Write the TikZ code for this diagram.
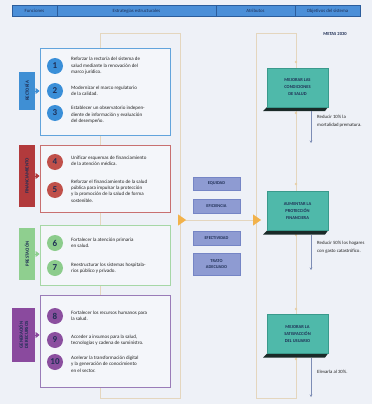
\documentclass[tikz,border=0pt]{standalone}
\usepackage{fontspec}
\setmainfont{Carlito}
\usetikzlibrary{shapes.geometric,arrows.meta,calc}
\definecolor{bgc}{HTML}{EEF1F7}
\definecolor{boxfill}{HTML}{F4F6FA}
\definecolor{beige}{HTML}{E4D6BE}
\definecolor{hdr}{HTML}{4B8FD8}
\definecolor{hdrdark}{HTML}{2B5D9C}
\definecolor{navy}{HTML}{1F2F55}
\definecolor{txt}{HTML}{222222}
\definecolor{bluetab}{HTML}{3F8FD4}
\definecolor{blueline}{HTML}{62A4DC}
\definecolor{bluecirc}{HTML}{3A8FD8}
\definecolor{redtab}{HTML}{B23A3C}
\definecolor{redline}{HTML}{C87070}
\definecolor{redcirc}{HTML}{C0504A}
\definecolor{greentab}{HTML}{8FCF8F}
\definecolor{greenline}{HTML}{A6D7A6}
\definecolor{greencirc}{HTML}{8CCC8C}
\definecolor{purtab}{HTML}{8A4A9E}
\definecolor{purline}{HTML}{9A7CB8}
\definecolor{purcirc}{HTML}{8B4F9F}
\definecolor{teal}{HTML}{4FB9AA}
\definecolor{tealdark}{HTML}{3A9A8C}
\definecolor{attr}{HTML}{8E9BD2}
\definecolor{attrdark}{HTML}{7585C5}
\definecolor{orangec}{HTML}{F2B24A}
\definecolor{goalc}{HTML}{7D8DB5}
\definecolor{shadowc}{HTML}{1A2A28}
\tikzset{
  hcell/.style={draw=hdrdark, fill=hdr, line width=0.8pt, minimum height=11pt, inner sep=0pt,
    font=\fontsize{4.8}{5}\selectfont, text=navy},
  frame/.style={draw=beige, line width=0.9pt, inner sep=0pt},
  grpbox/.style={draw=#1, fill=boxfill, line width=0.9pt, inner sep=0pt, minimum width=130pt},
  tab/.style={fill=#1, inner sep=0pt, minimum width=16pt, rotate=90, text=navy,
    font=\bfseries\fontsize{4.8}{5.4}\selectfont, align=center},
  tabarrow/.style={draw=#1, line width=0.6pt, -{Triangle[length=4pt,width=6pt]}},
  circ/.style={circle, fill=#1, minimum size=16pt, inner sep=0pt, text=navy,
    font=\bfseries\fontsize{9}{9}\selectfont},
  stxt/.style={anchor=west, align=left, inner sep=0pt, text=txt,
    font=\fontsize{5.0}{6.4}\selectfont},
  attrbox/.style={draw=attrdark, fill=attr, line width=0.5pt, minimum width=47pt, inner sep=0pt,
    text=navy, font=\bfseries\fontsize{4.4}{5.2}\selectfont, align=center},
  flowline/.style={draw=beige, line width=1pt},
  otri/.style={isosceles triangle, fill=orangec, inner sep=0pt, minimum width=8pt, minimum height=8pt,
    isosceles triangle apex angle=70},
  goalbox/.style={draw=tealdark, fill=teal, line width=0.5pt, minimum width=61pt, minimum height=39pt,
    inner sep=0pt, text=navy, font=\bfseries\fontsize{4.5}{7}\selectfont, align=center},
  goalline/.style={draw=goalc, line width=0.5pt, -{Stealth[length=2.5pt,width=2.5pt]}},
  goaltxt/.style={anchor=north west, align=left, inner sep=0pt, text=txt,
    font=\fontsize{4.8}{7.5}\selectfont},
  marker/.style={circle, fill=beige!80!orangec, inner sep=0pt, minimum size=2.6pt}
}
\begin{document}
\begin{tikzpicture}[x=1pt,y=-1pt]
\useasboundingbox (0,0) rectangle (372,404);
\fill[bgc] (0,0) rectangle (372,404);

% header
\node[hcell, minimum width=45pt] (h1) at (34.5,11) {Funciones};
\node[hcell, minimum width=159pt] (h2) at (136.5,11) {Estrategias estructurales};
\node[hcell, minimum width=79pt] (h3) at (255.5,11) {Atributos};
\node[hcell, minimum width=65pt] (h4) at (327.5,11) {Objetivos del sistema};

% frames
\node[frame, minimum width=80pt, minimum height=365pt] (lf) at (140,215.5) {};
\node[frame, minimum width=40pt, minimum height=365pt] (rf) at (276,215.5) {};

% markers on right frame edge
\foreach \yy in {62,113,184,235,309,359} \node[marker] at (296,\yy) {};

% group boxes
\node[grpbox=blueline, minimum height=87pt] (b1) at (105,91.5) {};
\node[grpbox=redline, minimum height=67pt] (b2) at (105,178.5) {};
\node[grpbox=greenline, minimum height=60pt] (b3) at (105,255) {};
\node[grpbox=purline, minimum height=92pt] (b4) at (105,341) {};

% tabs
\node[tab=bluetab, minimum width=38pt, minimum height=16pt] (t1) at (27,91) {RECTORÍA};
\node[tab=redtab, minimum width=62pt, minimum height=16pt] (t2) at (27,176) {FINANCIAMIENTO};
\node[tab=greentab, minimum width=52pt, minimum height=16pt] (t3) at (27,254) {PRESTACIÓN};
\node[tab=purtab, minimum width=54pt, minimum height=23pt] (t4) at (23.5,335) {GENERACIÓN\\DE RECURSOS};

\draw[tabarrow=bluetab] (t1.south) -- (b1.west |- t1.south);
\draw[tabarrow=redtab] (t2.south) -- (b2.west |- t2.south);
\draw[tabarrow=greentab] (t3.south) -- (b3.west |- t3.south);
\draw[tabarrow=purtab] (t4.south) -- (b4.west |- t4.south);

% blue group
\node[circ=bluecirc] (c1) at (55,66) {1};
\node[circ=bluecirc] (c2) at (55,91) {2};
\node[circ=bluecirc] (c3) at (55,113) {3};
\node[stxt] (s1) at (71,66) {Reforzar la rectoría del sistema de\\salud mediante la renovación del\\marco jurídico.};
\node[stxt] (s2) at (71,91) {Modernizar el marco regulatorio\\de la calidad.};
\node[stxt] (s3) at (71,115) {Establecer un observatorio indepen-\\diente de información y evaluación\\del desempeño.};

% red group
\node[circ=redcirc] (c4) at (55,162) {4};
\node[circ=redcirc] (c5) at (55,190) {5};
\node[stxt] (s4) at (71,161) {Unificar esquemas de financiamiento\\de la atención médica.};
\node[stxt] (s5) at (71,191) {Reforzar el financiamiento de la salud\\pública para impulsar la protección\\y la promoción de la salud de forma\\sostenible.};

% green group
\node[circ=greencirc] (c6) at (55,243) {6};
\node[circ=greencirc] (c7) at (55,268) {7};
\node[stxt] (s6) at (71,243) {Fortalecer la atención primaria\\en salud.};
\node[stxt] (s7) at (71,268) {Reestructurar los sistemas hospitala-\\rios público y privado.};

% purple group
\node[circ=purcirc] (c8) at (55,316) {8};
\node[circ=purcirc] (c9) at (55,340) {9};
\node[circ=purcirc] (c10) at (55,362) {10};
\node[stxt] (s8) at (71,316) {Fortalecer los recursos humanos para\\la salud.};
\node[stxt] (s9) at (71,340) {Acceder a insumos para la salud,\\tecnologías y cadena de suministro.};
\node[stxt] (s10) at (71,364) {Acelerar la transformación digital\\y la generación de conocimiento\\en el sector.};

% flow line and arrows
\coordinate (fa) at (180,220);
\coordinate (fb) at (256,220);
\draw[flowline] (fa) -- (fb);
\node[otri] (oa) at (181,220) {};
\node[otri] (ob) at (256,220) {};

% attributes
\node[attrbox, minimum height=13pt] (a1) at (216.5,183.5) {EQUIDAD};
\node[attrbox, minimum height=14pt] (a2) at (216.5,206) {EFICIENCIA};
\node[attrbox, minimum height=14pt] (a3) at (216.5,238) {EFECTIVIDAD};
\node[attrbox, minimum height=22pt] (a4) at (216.5,264) {TRATO\\ADECUADO};

% goals
\node[anchor=north, inner sep=0pt, text=navy, font=\bfseries\fontsize{4.6}{5}\selectfont] (metas) at (335,32) {METAS 2030};

\foreach \n/\yc/\t in {g1/87.5/{MEJORAR LAS\\CONDICIONES\\DE SALUD}, g2/211/{AUMENTAR LA\\PROTECCIÓN\\FINANCIERA}, g3/334/{MEJORAR LA\\SATISFACCIÓN\\DEL USUARIO}} {
  \fill[shadowc] ($(297.5,\yc)+(-30.5,19.5)$) -- ++(61,0) -- ++(-3,4) -- ++(-62,0) -- cycle;
  \node[goalbox] (\n) at (297.5,\yc) {\t};
}

\coordinate (e1) at (311,143);
\coordinate (e2) at (311,270);
\coordinate (e3) at (311,397);
\draw[goalline] ($(g1.south)+(13.5,4)$) -- (e1);
\draw[goalline] ($(g2.south)+(13.5,4)$) -- (e2);
\draw[goalline] ($(g3.south)+(13.5,4)$) -- (e3);

\node[goaltxt] (r1) at (317,115) {Reducir 10\% la\\mortalidad prematura.};
\node[goaltxt] (r2) at (317,241) {Reducir 50\% los hogares\\con gasto catastrófico.};
\node[goaltxt] (r3) at (317,370) {Elevarla al 30\%.};
\end{tikzpicture}
\end{document}
